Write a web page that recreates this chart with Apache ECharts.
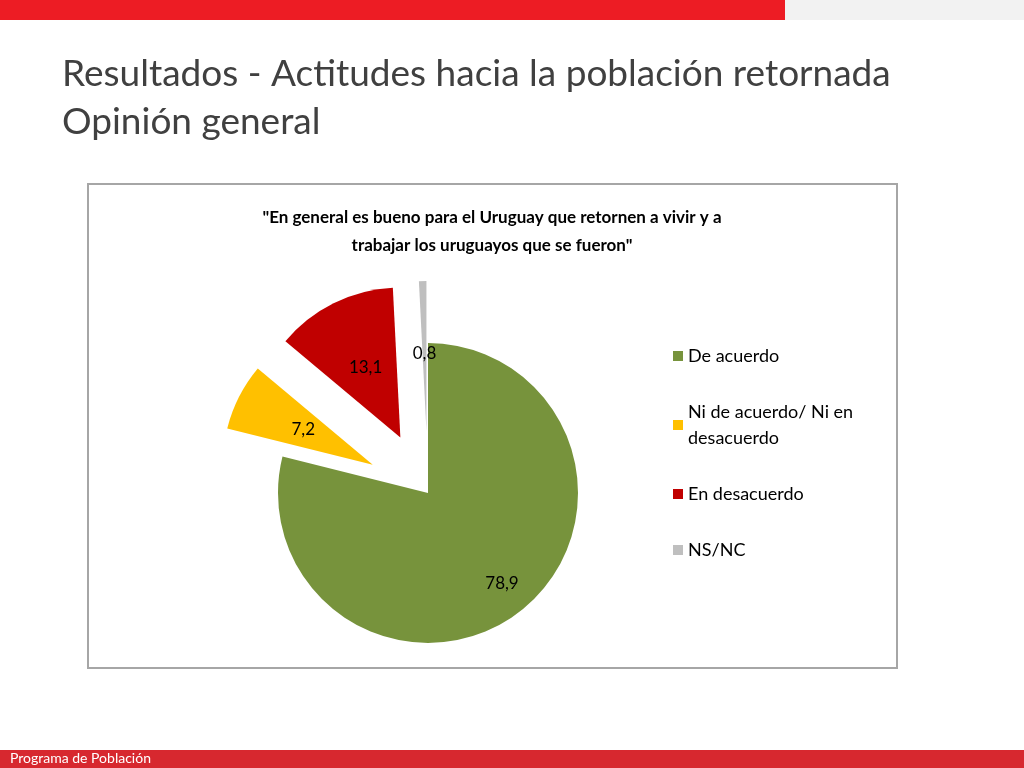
<!DOCTYPE html><html><head><meta charset="utf-8"><script src="https://cdn.jsdelivr.net/npm/echarts@6/dist/echarts.min.js"></script>
<style>body{margin:0}#c{width:1024px;height:768px}</style></head><body><div id="c"></div><script>
const categories=["De acuerdo","Ni de acuerdo/ Ni en\ndesacuerdo","En desacuerdo","NS/NC"];
const values=[78.9,7.2,13.1,0.8];
const labels=["78,9","7,2","13,1","0,8"];
const colors=["#77933C","#FFC000","#C00000","#BFBFBF"];
const labelOffsets=[[26,29],[-54,-31],[-31,-41],[18,-65]];
const F="Lato, 'Open Sans', sans-serif";
const ch=echarts.init(document.getElementById('c'));
ch.setOption({
 animation:false,
 graphic:[
  {type:'rect',shape:{x:0,y:0,width:785,height:20},style:{fill:'#ED1C24'}},
  {type:'rect',shape:{x:785,y:0,width:239,height:20},style:{fill:'#F2F2F2'}},
  {type:'rect',shape:{x:0,y:750,width:1024,height:18},style:{fill:'#D7282F'}},
  {type:'text',left:10,top:751,style:{text:'Programa de Población',fill:'#fff',font:'14px '+F}},
  {type:'text',left:62,top:50,style:{text:'Resultados - Actitudes hacia la población retornada\nOpinión general',fill:'#404040',font:'37px '+F,lineHeight:48}},
  {type:'rect',shape:{x:88,y:184,width:809,height:484},style:{fill:'#fff',stroke:'#A6A6A6',lineWidth:2}},
  {type:'text',x:492,y:204,style:{text:'"En general es bueno para el Uruguay que retornen a vivir y a\ntrabajar los uruguayos que se fueron"',fill:'#000',font:'bold 17px '+F,lineHeight:28,align:'center'}}
 ],
 legend:{orient:'vertical',left:668,top:338,itemWidth:10,itemHeight:10,itemGap:30,icon:'rect',
  textStyle:{fontFamily:F,fontSize:18,color:'#000',lineHeight:26}},
 series:[{type:'pie',center:[428,493],radius:150,startAngle:90,clockwise:true,
  selectedMode:'multiple',selectedOffset:62,
  label:{position:'inside',fontFamily:F,fontSize:17,color:'#000',formatter:p=>labels[p.dataIndex]},
  labelLine:{show:false},
  emphasis:{disabled:true},
  data:categories.map((n,i)=>({name:n,value:values[i],selected:i>0,itemStyle:{color:colors[i]},
   label:{offset:labelOffsets[i]}}))
 }]
});
</script></body></html>
